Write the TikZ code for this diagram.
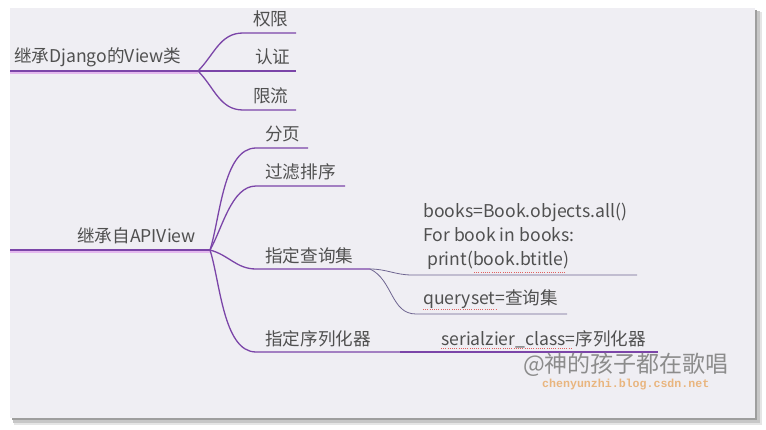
\documentclass[tikz,border=0pt]{standalone}
\usepackage{fontspec}
\setmainfont{Noto Sans CJK SC}
\newfontfamily\sitefont{Liberation Mono}
\usepackage{xcolor}
\usepackage{tikz}
\definecolor{slidebg}{HTML}{EFEEF3}
\definecolor{mappurple}{HTML}{7B45A8}
\definecolor{thinpurple}{HTML}{6E6590}
\definecolor{halopink}{HTML}{E4B8EE}
\definecolor{txtgray}{HTML}{505050}
\definecolor{spellred}{HTML}{E06060}
\definecolor{siteorange}{HTML}{E9B57E}
\tikzset{topic/.style={anchor=base west,inner sep=0pt,text=txtgray,font=\fontsize{17.6}{20}\selectfont},
         rootline/.style={draw=mappurple,line width=2.2pt},
         haloline/.style={draw=halopink,line width=1.6pt},
         branchline/.style={draw=mappurple,line width=1.3pt},
         leafline/.style={draw=thinpurple,line width=0.8pt},
         spellmark/.style={draw=spellred,line width=0.8pt,dash pattern=on 1pt off 1.2pt}}

\begin{document}
\begin{tikzpicture}[x=1pt,y=-1pt]
\useasboundingbox (0,0) rectangle (766,430);
% slide with its shadow
\fill[black!10] (14,12) rectangle (762,425);
\fill[black!22] (13,11) rectangle (760,423);
\fill[black!38] (12,10) rectangle (757,420);
\fill[slidebg] (10,8) rectangle (755,418);
% first topic
\coordinate (rootA) at (10,71);
\coordinate (forkA) at (198,71);
\coordinate (quanxianL) at (243,33);
\coordinate (quanxianR) at (296,33);
\coordinate (renzhengR) at (296,71);
\coordinate (xianliuL) at (243,110);
\coordinate (xianliuR) at (296,110);
\node[topic] (django) at (14,63) {继承Django的View类};
\node[topic] (quanxian) at (253,26) {权限};
\node[topic] (renzheng) at (255,64) {认证};
\node[topic] (xianliu) at (253,103) {限流};
\draw[haloline] ([yshift=-2pt]rootA) -- ([yshift=-2pt]forkA);
\draw[rootline] (rootA) -- (forkA);
\draw[branchline] (forkA) to[out=45,in=180] (quanxianL) -- (quanxianR);
\draw[branchline] (forkA) -- (renzhengR);
\draw[branchline] (forkA) to[out=-45,in=180] (xianliuL) -- (xianliuR);
% second topic
\coordinate (rootB) at (10,250);
\coordinate (forkB) at (210,250);
\coordinate (fenyeL) at (256,148);
\coordinate (fenyeR) at (308,148);
\coordinate (guolvL) at (256,186);
\coordinate (guolvR) at (345,186);
\coordinate (chaxunL) at (256,269);
\coordinate (chaxunR) at (370,269);
\coordinate (xuliehuaL) at (256,352);
\coordinate (xuliehuaR) at (400,352);
\node[topic] (apiview) at (77,243) {继承自APIView};
\node[topic] (fenye) at (265,141) {分页};
\node[topic] (guolv) at (265,179) {过滤排序};
\node[topic] (chaxun) at (265,263) {指定查询集};
\node[topic] (xuliehua) at (265,345) {指定序列化器};
\draw[haloline] ([yshift=-2pt]rootB) -- ([yshift=-2pt]forkB);
\draw[rootline] (rootB) -- (forkB);
\draw[branchline] (forkB) to[out=72,in=180,looseness=0.75] (fenyeL) -- (fenyeR);
\draw[branchline] (forkB) to[out=60,in=180,looseness=0.8] (guolvL) -- (guolvR);
\draw[branchline] (forkB) to[out=-15,in=180] (chaxunL) -- (chaxunR);
\draw[branchline] (forkB) to[out=-72,in=180,looseness=0.75] (xuliehuaL) -- (xuliehuaR);
% query set details
\coordinate (booksL) at (412,275);
\coordinate (booksR) at (637,275);
\coordinate (querysetL) at (416,314);
\coordinate (querysetR) at (567,314);
\coordinate (serialR) at (658,352);
\node[topic] (codeA) at (423,218) {books=Book.objects.all()};
\node[topic] (codeB) at (423,242) {For book in books:};
\node[topic] (codeC) at (423,266) {\ print(book.btitle)};
\node[topic] (queryset) at (423,305) {queryset=查询集};
\node[topic] (serial) at (441,345) {serialzier\_class=序列化器};
\draw[leafline] (chaxunR) to[out=0,in=180] (booksL) -- (booksR);
\draw[leafline] (chaxunR) to[out=-25,in=180] (querysetL) -- (querysetR);
\draw[branchline,line width=1.1pt] (xuliehuaR) -- (serialR);
% spell check marks
\draw[spellmark] (474,272) -- (566,272);
\draw[spellmark] (423,309) -- (497,309);
\draw[spellmark] (441,348) -- (572,348);
% watermark
\node[anchor=base west,inner sep=0pt,text=black!45,font=\fontsize{23}{25}\selectfont] (mark) at (523,373) {@神的孩子都在歌唱};
\node[anchor=base west,inner sep=0pt,text=siteorange,font=\sitefont\bfseries\fontsize{11.6}{13}\selectfont] (site) at (542,388) {chenyunzhi.blog.csdn.net};
\end{tikzpicture}
\end{document}
